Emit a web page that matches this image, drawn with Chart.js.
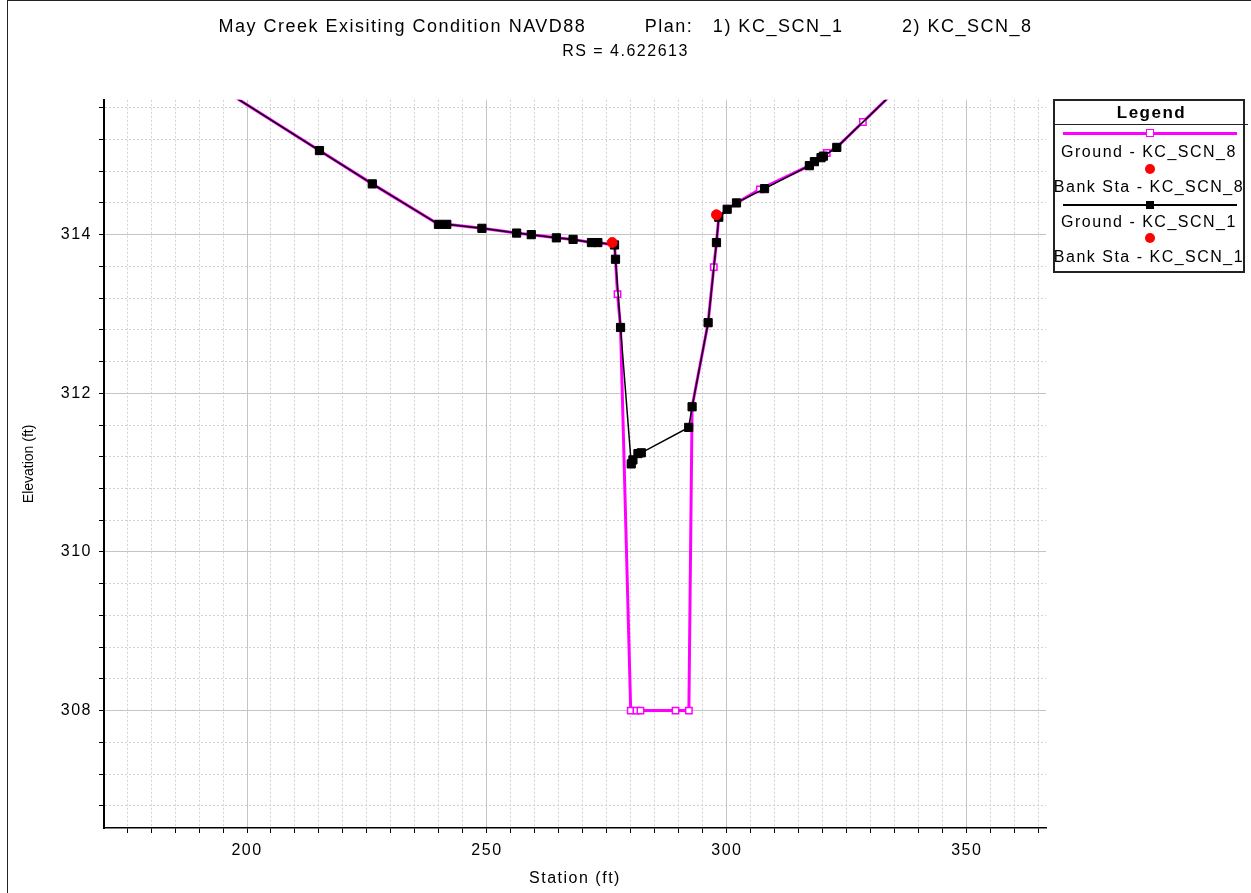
<!DOCTYPE html>
<html><head><meta charset="utf-8">
<script src="https://cdn.jsdelivr.net/npm/chart.js@4.4.1/dist/chart.umd.min.js"></script>
<style>
html,body{margin:0;padding:0;background:#fff;}
#wrap{position:relative;width:1251px;height:893px;overflow:hidden;font-family:"Liberation Sans",Arial,sans-serif;color:#000;}
#c{position:absolute;left:0;top:0;}
#frame{position:absolute;left:7px;top:0;width:1300px;height:1000px;border-left:1.5px solid #222;border-top:1.5px solid #222;pointer-events:none;}
#legend{position:absolute;left:1053px;top:99px;width:188px;height:170px;border:2px solid #222;background:#fff;letter-spacing:1.5px;font-size:16px;}
#legend .hd{position:absolute;left:0;top:0;width:193px;height:23px;line-height:23px;border-bottom:1.5px solid #222;text-align:center;font-weight:bold;font-size:17px;}
#legend .tx{position:absolute;left:-6px;width:200px;text-align:center;height:20px;line-height:20px;white-space:nowrap;}
#legend .ln{position:absolute;left:8px;width:174px;}
#legend .mk{position:absolute;box-sizing:border-box;}
</style>
</head><body>
<div id="wrap">
<canvas id="c" width="1251" height="893"></canvas>
<div id="frame"></div>
<div id="legend"></div>
</div>
<script>
// ---- data ----
const titleText = 'May Creek Exisiting Condition NAVD88         Plan:   1) KC_SCN_1         2) KC_SCN_8';
const subtitleText = 'RS = 4.622613';
const xTitle = 'Station (ft)';
const yTitle = 'Elevation (ft)';
const xMajorTicks = [200, 250, 300, 350];
const yMajorTicks = [308, 310, 312, 314];
const xMinorStep = 5;
const yMinorStep = 0.4;
const xRange = [170.2, 366.5];
const yRange = [306.52, 315.7];

const seriesLabels = ['Ground - KC_SCN_8', 'Bank Sta - KC_SCN_8', 'Ground - KC_SCN_1', 'Bank Sta - KC_SCN_1'];

const scn1Station = [190.0, 215.10, 226.11, 239.90, 241.63, 248.95, 256.19, 259.24, 264.47, 267.95, 271.78, 273.11, 276.58, 276.79, 277.84, 280.07, 280.42, 281.47, 282.16, 292.04, 292.75, 296.09, 297.83, 298.31, 300.06, 302.00, 307.85, 317.19, 318.24, 319.62, 320.12, 322.90, 340.0];
const scn1Elev = [316.02, 315.06, 314.64, 314.13, 314.13, 314.08, 314.02, 314.00, 313.96, 313.94, 313.90, 313.90, 313.87, 313.69, 312.83, 311.11, 311.16, 311.24, 311.25, 311.57, 311.83, 312.89, 313.90, 314.22, 314.32, 314.40, 314.58, 314.87, 314.92, 314.97, 314.99, 315.10, 316.10];

const scn8Station = [190.0, 215.10, 226.11, 239.90, 241.63, 248.95, 256.19, 259.24, 264.47, 267.95, 271.78, 273.11, 276.58, 276.79, 277.21, 277.84, 279.96, 281.15, 281.99, 289.30, 292.08, 292.75, 296.09, 297.27, 297.83, 298.31, 300.06, 302.00, 306.87, 317.19, 318.24, 319.62, 320.81, 322.90, 328.34, 340.0];
const scn8Elev = [316.02, 315.06, 314.64, 314.13, 314.13, 314.08, 314.02, 314.00, 313.96, 313.94, 313.90, 313.90, 313.87, 313.69, 313.25, 312.83, 308.00, 308.00, 308.00, 308.00, 308.00, 311.83, 312.89, 313.59, 313.90, 314.22, 314.32, 314.40, 314.57, 314.87, 314.92, 314.97, 315.03, 315.10, 315.42, 316.10];

const bank1Station = [276.10, 297.83];
const bank1Elev = [313.90, 314.25];
const bank8Station = [276.10, 297.83];
const bank8Elev = [313.90, 314.25];

// ---- helpers ----
const zip = (xs, ys) => xs.map((x, i) => ({x: x, y: ys[i]}));
const isMajor = (v, arr) => arr.some(m => Math.abs(m - v) < 1e-6);
function stepTicks(min, max, step) {
  const out = [];
  for (let i = Math.ceil(min / step - 1e-9); i * step <= max + 1e-9; i++) {
    out.push({value: Math.round(i * step * 1000) / 1000});
  }
  return out;
}
const SP = '1.5px';
const spacingPlugin = {
  id: 'spacing',
  beforeUpdate(chart) { chart.ctx.letterSpacing = SP; },
  beforeLayout(chart) { chart.ctx.letterSpacing = SP; },
  afterLayout(chart) {
    // vertical axis title is drawn without the extra letter spacing
    const ys = chart.scales.y;
    if (ys && !ys._plainTitle) {
      const orig = ys.drawTitle;
      ys.drawTitle = function () {
        const prev = this.ctx.letterSpacing;
        this.ctx.letterSpacing = '0px';
        orig.call(this);
        this.ctx.letterSpacing = prev;
      };
      ys._plainTitle = true;
    }
  },
  beforeDraw(chart) { chart.ctx.letterSpacing = SP; }
};

Chart.defaults.font.family = '"Liberation Sans", Arial, sans-serif';
Chart.defaults.color = '#000';

const chart = new Chart(document.getElementById('c'), {
  type: 'scatter',
  plugins: [spacingPlugin],
  data: {
    datasets: [
      {label: seriesLabels[0], data: zip(scn8Station, scn8Elev), showLine: true, xAxisID: 'x', yAxisID: 'y',
       borderColor: '#ff00ff', borderWidth: 3, tension: 0, pointStyle: 'rect', pointRadius: 4.5,
       pointBorderColor: '#ff00ff', pointBackgroundColor: '#ffffff', pointBorderWidth: 1.5, order: 3},
      {label: seriesLabels[1], data: zip(bank8Station, bank8Elev), showLine: false, xAxisID: 'x', yAxisID: 'y',
       pointStyle: 'circle', pointRadius: 5, pointBackgroundColor: '#ff0000', pointBorderColor: '#ff0000', pointBorderWidth: 0.5, order: 1},
      {label: seriesLabels[2], data: zip(scn1Station, scn1Elev), showLine: true, xAxisID: 'x', yAxisID: 'y',
       borderColor: '#000000', borderWidth: 1.5, tension: 0, pointStyle: 'rect', pointRadius: 5.8,
       pointBorderColor: '#000000', pointBackgroundColor: '#000000', pointBorderWidth: 1, order: 2},
      {label: seriesLabels[3], data: zip(bank1Station, bank1Elev), showLine: false, xAxisID: 'x', yAxisID: 'y',
       pointStyle: 'circle', pointRadius: 5, pointBackgroundColor: '#ff0000', pointBorderColor: '#ff0000', pointBorderWidth: 0.5, order: 0}
    ]
  },
  options: {
    responsive: false,
    animation: false,
    events: [],
    layout: {padding: 0},
    plugins: {
      legend: {display: false},
      tooltip: {enabled: false},
      title: {display: true, text: titleText, color: '#000', font: {size: 18, weight: 'normal'}, padding: {top: 16, bottom: 4.6}},
      subtitle: {display: true, text: subtitleText, color: '#000', font: {size: 16, weight: 'normal'}, padding: {top: 0, bottom: 38.4}}
    },
    scales: {
      x: {
        type: 'linear', position: 'bottom', min: xRange[0], max: xRange[1],
        afterBuildTicks: a => { a.ticks = stepTicks(xRange[0], xRange[1], xMinorStep); },
        afterFit: a => { a.height = 65; },
        ticks: {autoSkip: false, maxRotation: 0, padding: 8, color: '#000', font: {size: 16},
                callback: v => isMajor(v, xMajorTicks) ? String(v) : ''},
        grid: {color: c => (c.tick && isMajor(c.tick.value, xMajorTicks)) ? 'rgba(0,0,0,0)' : '#d2d2d2',
               lineWidth: 1, tickLength: 5, tickColor: '#000', tickWidth: 1},
        border: {display: true, color: '#000', width: 1.5, dash: [2, 2]},
        title: {display: true, text: xTitle, color: '#000', font: {size: 16}, padding: {top: 0, bottom: 5}}
      },
      y: {
        type: 'linear', position: 'left', min: yRange[0], max: yRange[1],
        afterBuildTicks: a => { a.ticks = stepTicks(yRange[0], yRange[1], yMinorStep); },
        afterFit: a => { a.width = 104; },
        ticks: {autoSkip: false, padding: 7, color: '#000', font: {size: 16},
                callback: v => isMajor(v, yMajorTicks) ? String(v) : ''},
        grid: {color: c => (c.tick && isMajor(c.tick.value, yMajorTicks)) ? 'rgba(0,0,0,0)' : '#d2d2d2',
               lineWidth: 1, tickLength: 5, tickColor: '#000', tickWidth: 1},
        border: {display: true, color: '#000', width: 2, dash: [2, 2]},
        title: {display: true, text: yTitle, color: '#000', font: {size: 14}, padding: {top: 21, bottom: 0}}
      },
      x2: {
        type: 'linear', position: 'bottom', min: xRange[0], max: xRange[1],
        afterBuildTicks: a => { a.ticks = xMajorTicks.map(v => ({value: v})); },
        ticks: {display: false},
        grid: {color: '#c4c4c4', lineWidth: 1, drawTicks: false},
        border: {display: false}
      },
      y2: {
        type: 'linear', position: 'left', min: yRange[0], max: yRange[1],
        afterBuildTicks: a => { a.ticks = yMajorTicks.map(v => ({value: v})); },
        ticks: {display: false},
        grid: {color: '#c4c4c4', lineWidth: 1, drawTicks: false},
        border: {display: false}
      },
      yR: {
        type: 'linear', position: 'right', min: 0, max: 1,
        afterFit: a => { a.width = 205; },
        ticks: {display: false},
        grid: {display: false, drawTicks: false},
        border: {display: false}
      }
    }
  }
});

// ---- HTML legend built from datasets ----
(function buildLegend() {
  const box = document.getElementById('legend');
  const hd = document.createElement('div');
  hd.className = 'hd';
  hd.textContent = 'Legend';
  box.appendChild(hd);
  const symY = [32, 68, 104, 137];
  const txtY = [51, 86, 121, 156];
  const cx = 95;
  chart.data.datasets.forEach((ds, i) => {
    if (ds.showLine) {
      const ln = document.createElement('div');
      ln.className = 'ln';
      const h = ds.borderWidth >= 2 ? 3 : 2;
      ln.style.height = h + 'px';
      ln.style.top = (symY[i] - h / 2) + 'px';
      ln.style.background = ds.borderColor;
      box.appendChild(ln);
      const mk = document.createElement('div');
      mk.className = 'mk';
      const s = 8;
      mk.style.width = s + 'px'; mk.style.height = s + 'px';
      mk.style.left = (cx - s / 2) + 'px'; mk.style.top = (symY[i] - s / 2) + 'px';
      mk.style.background = ds.pointBackgroundColor;
      mk.style.border = '1.5px solid ' + ds.pointBorderColor;
      box.appendChild(mk);
    } else {
      const mk = document.createElement('div');
      mk.className = 'mk';
      const s = 10;
      mk.style.width = s + 'px'; mk.style.height = s + 'px';
      mk.style.left = (cx - s / 2) + 'px'; mk.style.top = (symY[i] - s / 2) + 'px';
      mk.style.background = ds.pointBackgroundColor;
      mk.style.borderRadius = '50%';
      box.appendChild(mk);
    }
    const tx = document.createElement('div');
    tx.className = 'tx';
    tx.style.top = (txtY[i] - 10) + 'px';
    tx.textContent = ds.label;
    box.appendChild(tx);
  });
})();
</script>
</body></html>
